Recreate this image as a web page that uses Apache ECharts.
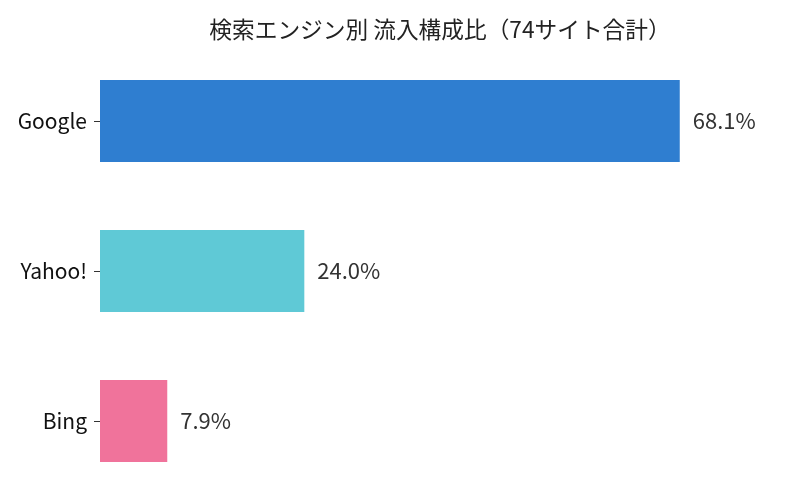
<!DOCTYPE html>
<html lang="ja">
<head>
<meta charset="utf-8">
<title>検索エンジン別 流入構成比</title>
<script src="https://cdn.jsdelivr.net/npm/echarts@6/dist/echarts.min.js"></script>
<style>
html,body{margin:0;padding:0;background:#fff;}
#chart{width:800px;height:500px;}
</style>
</head>
<body>
<div id="chart"></div>
<script>
var engines = ['Google', 'Yahoo!', 'Bing'];
var shares = [68.1, 24.0, 7.9];
var colors = ['#2f7ed0', '#5fc9d6', '#f0739b'];

var font = '"Noto Sans CJK JP", "Noto Sans", sans-serif';
var chart = echarts.init(document.getElementById('chart'));
chart.setOption({
	animation: false,
	title: {
		text: '検索エンジン別 流入構成比（74サイト合計）',
		left: 435,
		textAlign: 'center',
		top: 13,
		textStyle: {fontFamily: font, fontSize: 22.7, fontWeight: 'normal', color: '#222'}
	},
	grid: {left: 100, right: 30, top: 46, height: 450},
	xAxis: {
		type: 'value',
		min: 0,
		max: 78.7,
		show: false
	},
	yAxis: {
		type: 'category',
		inverse: true,
		data: engines,
		axisLine: {show: false},
		axisTick: {show: true, alignWithLabel: true, length: 6, lineStyle: {color: '#333'}},
		axisLabel: {fontFamily: font, fontSize: 21, color: '#111', margin: 13}
	},
	series: [{
		type: 'bar',
		barWidth: 82,
		data: shares.map(function (v, i) {
			return {value: v, itemStyle: {color: colors[i]}};
		}),
		label: {
			show: true,
			position: 'right',
			distance: 13,
			fontFamily: font,
			fontSize: 22,
			color: '#333',
			formatter: function (p) { return p.value.toFixed(1) + '%'; }
		}
	}]
});
</script>
</body>
</html>
